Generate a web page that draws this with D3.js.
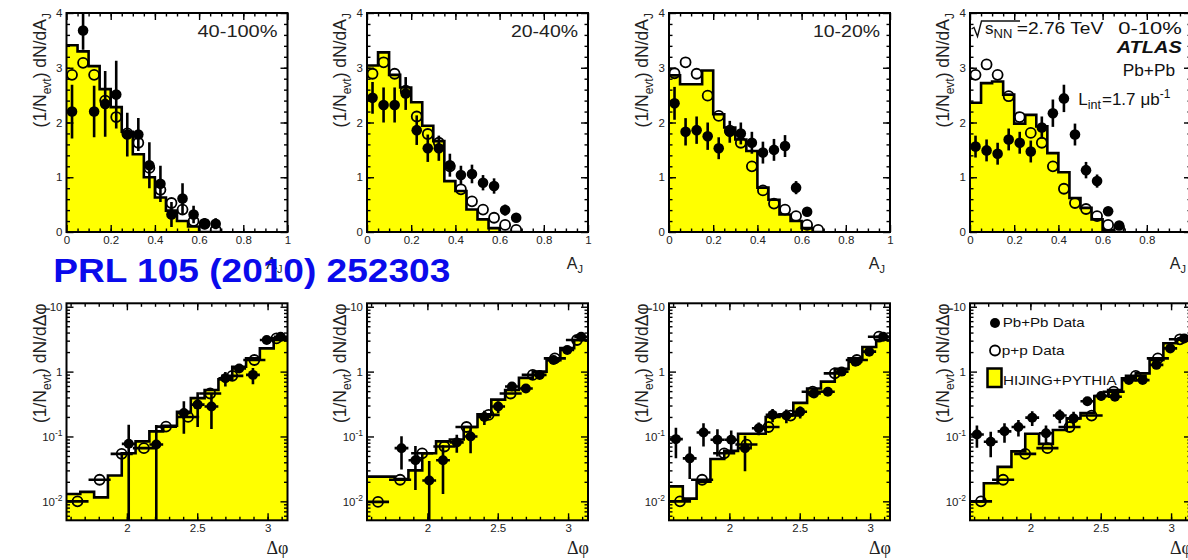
<!DOCTYPE html>
<html lang="en">
<head>
<meta charset="UTF-8">
<title>ATLAS dijet asymmetry</title>
<script src="https://cdn.jsdelivr.net/npm/d3@7"></script>
<style>
    body { margin: 0; background: #fff; }
    svg { display: block; font-family: "Liberation Sans", Arial, sans-serif; }
    .tick text { font-size: 11.5px; fill: #222; font-family: "Liberation Sans", Arial, sans-serif; }
    .tick line { stroke: #000; stroke-width: 1.4; }
    .frame { fill: none; stroke: #000; stroke-width: 2; }
    .hist-fill { fill: #ffff00; }
    .hist-line { fill: none; stroke: #000; stroke-width: 2.6; }
    .err { stroke: #000; stroke-width: 2.6; }
    .pbpb { fill: #000; }
    .pp { fill: none; stroke: #000; stroke-width: 1.8; }
</style>
</head>
<body>
<svg id="chart" width="1188" height="560"></svg>
<script>
    // ---------- top row : A_J ----------
    const centralities = ["40-100%", "20-40%", "10-20%", "0-10%"];
    const ajEdges = [0, 0.05, 0.1, 0.15, 0.2, 0.25, 0.3, 0.35, 0.4, 0.45, 0.5, 0.55, 0.6, 0.65, 0.7];
    const ajCentres = [0.025, 0.075, 0.125, 0.175, 0.225, 0.275, 0.325, 0.375, 0.425, 0.475, 0.525, 0.575, 0.625, 0.675];
    const ajTicks = [0, 0.2, 0.4, 0.6, 0.8, 1];
    const ajYTicks = [0, 1, 2, 3, 4];

    // HIJING+PYTHIA histograms
    const ajHist40 = [3.41, 3.30, 3.03, 2.61, 2.28, 1.83, 1.42, 1.00, 0.63, 0.39, 0.20, 0.10, 0, 0];
    const ajHist20 = [3.04, 3.28, 2.87, 2.64, 2.37, 1.94, 1.66, 0.93, 0.75, 0.41, 0.23, 0.07, 0, 0];
    const ajHist10 = [2.86, 2.70, 2.70, 2.95, 2.15, 1.91, 1.69, 1.48, 0.81, 0.59, 0.32, 0.20, 0.07, 0];
    const ajHist0  = [2.36, 2.72, 2.75, 2.51, 1.98, 2.14, 1.93, 1.44, 1.09, 0.62, 0.44, 0.23, 0.03, 0];

    // Pb+Pb data and errors
    const ajPbPb40 = [2.20, 3.68, 2.20, 2.34, 2.51, 1.78, 1.78, 1.22, 0.88, 0.32, 0.61, 0.32, 0.15, 0.15];
    const ajErr40  = [0.49, 0.35, 0.47, 0.60, 0.62, 0.40, 0.30, 0.42, 0.33, 0.23, 0.28, 0.16, 0.10, 0.10];
    const ajPbPb20 = [2.45, 2.32, 2.32, 2.53, 1.86, 1.53, 1.53, 1.22, 1.04, 1.06, 0.90, 0.84, 0.40, 0.26];
    const ajErr20  = [0.29, 0.32, 0.32, 0.30, 0.27, 0.25, 0.23, 0.21, 0.17, 0.17, 0.14, 0.14, 0.10, 0.08];
    const ajPbPb10 = [2.35, 1.83, 1.86, 1.75, 1.53, 1.83, 1.80, 1.63, 1.45, 1.50, 1.57, 0.81, 0.37];
    const ajErr10  = [0.30, 0.25, 0.25, 0.25, 0.20, 0.20, 0.20, 0.20, 0.20, 0.20, 0.20, 0.12, 0.08];
    const ajPbPb0  = [1.56, 1.49, 1.43, 1.69, 1.63, 1.47, 1.91, 2.17, 2.44, 1.78, 1.13, 0.93, 0.38, 0.12];
    const ajErr0   = [0.20, 0.20, 0.20, 0.20, 0.20, 0.20, 0.20, 0.25, 0.25, 0.20, 0.15, 0.12, 0.08, 0.05];

    // p+p data
    const ajPP40 = [2.87, 3.09, 2.87, 2.40, 2.10, 1.80, 1.63, 1.17, 0.77, 0.53, 0.41, 0.20, 0.15, 0.04];
    const ajPP20 = [2.89, 3.10, 2.89, 2.58, 2.11, 1.79, 1.63, 1.20, 0.78, 0.56, 0.41, 0.26, 0.13, 0.04];
    const ajPP10 = [2.90, 3.10, 2.89, 2.49, 2.12, 1.85, 1.63, 1.20, 0.76, 0.52, 0.41, 0.29, 0.13, 0.04];
    const ajPP0  = [2.87, 3.06, 2.87, 2.48, 2.10, 1.81, 1.63, 1.20, 0.79, 0.53, 0.42, 0.29, 0.13, 0.07];

    // ---------- bottom row : delta phi ----------
    const dphiEdges = [1.5708, 1.6690, 1.7671, 1.8653, 1.9635, 2.0617, 2.1598, 2.2580, 2.3562,
                       2.4544, 2.5525, 2.6507, 2.7489, 2.8471, 2.9452, 3.0434, 3.1416];
    const dphiTicks = [2, 2.5, 3];
    const dphiYTicks = [0.01, 0.1, 1, 10];

    const dphiHist40 = [0.013, 0.014, 0.0115, 0.025, 0.055, 0.084, 0.12, 0.146, 0.24, 0.39, 0.52, 0.76, 1.19, 1.6, 2.28, 3.07];
    const dphiHist20 = [0.024, 0.024, 0.022, 0.03, 0.055, 0.084, 0.09, 0.14, 0.22, 0.37, 0.52, 0.8, 1.0, 1.5, 2.3, 3.07];
    const dphiHist10 = [0.017, 0.011, 0.02, 0.045, 0.06, 0.11, 0.11, 0.2, 0.22, 0.33, 0.55, 0.7, 1.1, 1.6, 2.4, 3.1];
    const dphiHist0  = [0.01, 0.019, 0.034, 0.059, 0.11, 0.077, 0.126, 0.19, 0.23, 0.42, 0.52, 0.79, 0.94, 1.51, 2.73, 3.1];

    const dphiPbPbX40 = [2.013, 2.209, 2.405, 2.503, 2.601, 2.700, 2.798, 2.896, 2.994, 3.093];
    const dphiPbPb40  = [0.077, 0.075, 0.23, 0.31, 0.29, 0.79, 1.12, 0.89, 3.07, 3.45];
    const dphiErr40   = [0.075, 0.075, 0.12, 0.17, 0.16, 0.2, 0.15, 0.25, 0.3, 0.3];
    const dphiPbPbX20 = [1.816, 1.915, 2.013, 2.111, 2.209, 2.307, 2.405, 2.503, 2.601, 2.700, 2.798, 2.896, 2.994, 3.093];
    const dphiPbPb20  = [0.066, 0.043, 0.021, 0.043, 0.081, 0.10, 0.2, 0.29, 0.59, 0.55, 0.89, 1.51, 2.15, 3.45];
    const dphiErr20   = [0.035, 0.028, 0.021, 0.03, 0.025, 0.045, 0.05, 0.06, 0.08, 0.08, 0.1, 0.15, 0.2, 0.3];
    const dphiPbPbX10 = [1.620, 1.718, 1.816, 1.915, 2.013, 2.111, 2.209, 2.307, 2.405, 2.503, 2.601, 2.700, 2.798, 2.896, 2.994, 3.093];
    const dphiPbPb10  = [0.091, 0.046, 0.115, 0.089, 0.089, 0.066, 0.134, 0.215, 0.21, 0.24, 0.46, 0.49, 1.0, 1.42, 2.03, 3.45];
    const dphiErr10   = [0.045, 0.024, 0.045, 0.04, 0.035, 0.037, 0.03, 0.05, 0.05, 0.05, 0.05, 0.05, 0.08, 0.1, 0.15, 0.2];
    const dphiPbPbX0  = [1.620, 1.718, 1.816, 1.915, 2.013, 2.111, 2.209, 2.307, 2.405, 2.503, 2.601, 2.700, 2.798, 2.896, 2.994, 3.093];
    const dphiPbPb0   = [0.107, 0.083, 0.12, 0.14, 0.195, 0.112, 0.21, 0.19, 0.35, 0.42, 0.41, 0.74, 0.74, 1.27, 2.28, 3.25];
    const dphiErr0    = [0.04, 0.035, 0.04, 0.04, 0.05, 0.035, 0.05, 0.05, 0.05, 0.06, 0.05, 0.07, 0.07, 0.1, 0.15, 0.2];

    const dphiPPX  = [1.649, 1.806, 1.963, 2.121, 2.278, 2.435, 2.592, 2.749, 2.906, 3.063];
    const dphiPP40 = [0.01, 0.0215, 0.054, 0.066, 0.142, 0.2, 0.46, 0.86, 1.51, 3.25];
    const dphiPP20 = [0.0098, 0.0215, 0.055, 0.07, 0.14, 0.215, 0.46, 0.89, 1.6, 3.07];
    const dphiPP10 = [0.01, 0.0215, 0.055, 0.075, 0.14, 0.21, 0.49, 0.94, 1.51, 3.45];
    const dphiPP0  = [0.01, 0.0215, 0.054, 0.066, 0.14, 0.21, 0.49, 0.86, 1.6, 3.15];

    const topPanels = [
        {label: centralities[0], hist: ajHist40, pbpb: ajPbPb40, err: ajErr40, pp: ajPP40},
        {label: centralities[1], hist: ajHist20, pbpb: ajPbPb20, err: ajErr20, pp: ajPP20},
        {label: centralities[2], hist: ajHist10, pbpb: ajPbPb10, err: ajErr10, pp: ajPP10},
        {label: centralities[3], hist: ajHist0, pbpb: ajPbPb0, err: ajErr0, pp: ajPP0}
    ];
    const botPanels = [
        {hist: dphiHist40, px: dphiPbPbX40, pbpb: dphiPbPb40, err: dphiErr40, pp: dphiPP40},
        {hist: dphiHist20, px: dphiPbPbX20, pbpb: dphiPbPb20, err: dphiErr20, pp: dphiPP20},
        {hist: dphiHist10, px: dphiPbPbX10, pbpb: dphiPbPb10, err: dphiErr10, pp: dphiPP10},
        {hist: dphiHist0, px: dphiPbPbX0, pbpb: dphiPbPb0, err: dphiErr0, pp: dphiPP0}
    ];

    // layout
    const colX = [66.5, 367, 669, 970];
    const W = 221;
    const topY = 13, topH = 219;
    const botY = 303.3, botH = 217;

    const svg = d3.select("#chart");
    svg.append("rect").attr("width", 1188).attr("height", 560).attr("fill", "#fff");
    const defs = svg.append("defs");

    function addAxes(g, x, y, w, h, o) {
        const specs = [
            [d3.axisBottom, `translate(0,${h})`, x, o.xMajor, 7, o.xFmt],
            [d3.axisBottom, `translate(0,${h})`, x, o.xMinor, 3.5, null],
            [d3.axisTop, "translate(0,0)", x, o.xMajor, 7, null],
            [d3.axisTop, "translate(0,0)", x, o.xMinor, 3.5, null],
            [d3.axisLeft, "translate(0,0)", y, o.yMajor, 7, o.yFmt],
            [d3.axisLeft, "translate(0,0)", y, o.yMinor, 3.5, null],
            [d3.axisRight, `translate(${w},0)`, y, o.yMajor, 7, null],
            [d3.axisRight, `translate(${w},0)`, y, o.yMinor, 3.5, null]
        ];
        specs.forEach(([fn, tr, sc, vals, len, fmt]) => {
            const a = fn(sc).tickValues(vals).tickSizeInner(-len).tickSizeOuter(0)
                .tickPadding(4).tickFormat(fmt || (() => ""));
            const ag = g.append("g").attr("transform", tr).call(a);
            ag.select(".domain").remove();
            if (!fmt) ag.selectAll("text").remove();
            if (fmt && o.logLabels && fn === d3.axisLeft) {
                ag.selectAll(".tick text").each(function (d) {
                    const t = d3.select(this);
                    if (d === 1 || d === 10) { t.text(String(d)); return; }
                    t.text("10");
                    t.append("tspan").attr("dy", "-5").attr("font-size", "8.5px")
                        .text(Math.round(Math.log10(d)));
                });
            }
        });
        g.append("rect").attr("class", "frame").attr("width", w).attr("height", h);
    }

    function stepPoints(edges, hist) {
        const pts = hist.map((v, k) => [edges[k], v]);
        pts.push([edges[hist.length], hist[hist.length - 1]]);
        return pts;
    }

    function yTitle(g, h, last) {
        const t = g.append("text")
            .attr("transform", "translate(-21,0) rotate(-90)")
            .attr("text-anchor", "end")
            .attr("font-size", "17.5px")
            .attr("fill", "#222");
        t.append("tspan").text("(1/N");
        t.append("tspan").attr("font-size", "12px").attr("dy", 5).text("evt");
        t.append("tspan").attr("dy", -5).text(") dN/d" + last);
        return t;
    }

    // ----- top row -----
    topPanels.forEach((p, i) => {
        const g = svg.append("g").attr("transform", `translate(${colX[i]},${topY})`);
        const x = d3.scaleLinear().domain([0, 1]).range([0, W]);
        const y = d3.scaleLinear().domain([0, 4]).range([topH, 0]);
        defs.append("clipPath").attr("id", "ct" + i).append("rect").attr("width", W).attr("height", topH);
        const plot = g.append("g").attr("clip-path", `url(#ct${i})`);
        const pts = stepPoints(ajEdges, p.hist);
        plot.append("path").attr("class", "hist-fill")
            .attr("d", d3.area().x(d => x(d[0])).y0(topH).y1(d => y(d[1])).curve(d3.curveStepAfter)(pts));
        plot.append("path").attr("class", "hist-line")
            .attr("d", d3.line().x(d => x(d[0])).y(d => y(d[1])).curve(d3.curveStepAfter)(pts));

        plot.selectAll(".err").data(p.pbpb).enter().append("line").attr("class", "err")
            .attr("x1", (d, k) => x(ajCentres[k])).attr("x2", (d, k) => x(ajCentres[k]))
            .attr("y1", (d, k) => y(Math.max(0, d - p.err[k]))).attr("y2", (d, k) => y(d + p.err[k]));
        plot.selectAll(".pbpb").data(p.pbpb).enter().append("circle").attr("class", "pbpb")
            .attr("cx", (d, k) => x(ajCentres[k])).attr("cy", d => y(d)).attr("r", 5.3);
        plot.selectAll(".pp").data(p.pp).enter().append("circle").attr("class", "pp")
            .attr("cx", (d, k) => x(ajCentres[k])).attr("cy", d => y(d)).attr("r", 5);

        addAxes(g, x, y, W, topH, {
            xMajor: ajTicks, xMinor: d3.range(0.05, 1, 0.05),
            yMajor: ajYTicks, yMinor: d3.range(0.2, 4, 0.2),
            xFmt: d => (d === 0 || d === 1) ? String(d) : d.toFixed(1),
            yFmt: d3.format("d")
        });

        if (i < 3) {
            g.append("text").attr("x", W - 10).attr("y", 24.3).attr("text-anchor", "end")
                .attr("font-size", "16px").attr("fill", "#222")
                .attr("textLength", i === 0 ? 80 : 67).attr("lengthAdjust", "spacingAndGlyphs")
                .text(p.label);
        }
        yTitle(g, topH, "A").append("tspan").attr("font-size", "12px").attr("dy", 5).text("J");

        const xl = g.append("text").attr("x", W - 5).attr("y", topH + 37).attr("text-anchor", "end")
            .attr("font-size", "16px").attr("fill", "#222");
        xl.append("tspan").text("A");
        xl.append("tspan").attr("font-size", "11px").attr("dy", 4).text("J");
    });

    // ----- bottom row -----
    botPanels.forEach((p, i) => {
        const g = svg.append("g").attr("transform", `translate(${colX[i]},${botY})`);
        const x = d3.scaleLinear().domain([Math.PI / 2, Math.PI]).range([0, W]);
        const y = d3.scaleLog().domain([0.0051, 11.3]).range([botH, 0]);
        const ylo = y.domain()[0];
        defs.append("clipPath").attr("id", "cb" + i).append("rect").attr("width", W).attr("height", botH);
        const plot = g.append("g").attr("clip-path", `url(#cb${i})`);
        const pts = stepPoints(dphiEdges, p.hist);
        plot.append("path").attr("class", "hist-fill")
            .attr("d", d3.area().x(d => x(d[0])).y0(botH).y1(d => y(d[1])).curve(d3.curveStepAfter)(pts));
        plot.append("path").attr("class", "hist-line")
            .attr("d", d3.line().x(d => x(d[0])).y(d => y(d[1])).curve(d3.curveStepAfter)(pts));

        // p+p : horizontal bars + open circles
        plot.selectAll(".pph").data(p.pp).enter().append("line").attr("class", "err")
            .attr("x1", (d, k) => x(dphiPPX[k] - Math.PI / 40)).attr("x2", (d, k) => x(dphiPPX[k] + Math.PI / 40))
            .attr("y1", d => y(d)).attr("y2", d => y(d));
        // Pb+Pb : error bars
        plot.selectAll(".ev").data(p.pbpb).enter().append("line").attr("class", "err")
            .attr("x1", (d, k) => x(p.px[k])).attr("x2", (d, k) => x(p.px[k]))
            .attr("y1", (d, k) => y(Math.max(ylo, d - p.err[k]))).attr("y2", (d, k) => y(d + p.err[k]));
        plot.selectAll(".eh").data(p.pbpb).enter().append("line").attr("class", "err")
            .attr("x1", (d, k) => x(p.px[k] - Math.PI / 64)).attr("x2", (d, k) => x(p.px[k] + Math.PI / 64))
            .attr("y1", d => y(d)).attr("y2", d => y(d));
        plot.selectAll(".pbpb").data(p.pbpb).enter().append("circle").attr("class", "pbpb")
            .attr("cx", (d, k) => x(p.px[k])).attr("cy", d => y(d)).attr("r", 5);
        plot.selectAll(".ppc").data(p.pp).enter().append("circle").attr("class", "pp")
            .attr("cx", (d, k) => x(dphiPPX[k])).attr("cy", d => y(d)).attr("r", 5);

        const yMinor = [];
        [0.001, 0.01, 0.1, 1].forEach(dec => d3.range(2, 10).forEach(m => {
            const v = dec * m;
            if (v > ylo && v < 11.3) yMinor.push(v);
        }));
        addAxes(g, x, y, W, botH, {
            xMajor: dphiTicks, xMinor: d3.range(1.6, 3.15, 0.1),
            yMajor: dphiYTicks, yMinor: yMinor,
            xFmt: d => String(d), yFmt: d => String(d), logLabels: true
        });

        yTitle(g, botH, "Δφ");
        g.append("text").attr("x", W + 1).attr("y", botH + 34).attr("text-anchor", "end")
            .attr("font-family", "'Liberation Serif', 'DejaVu Serif', serif")
            .attr("font-size", "18px").attr("fill", "#222").text("Δφ");
    });

    // ----- ATLAS annotations (0-10% panel) -----
    const ann = svg.append("g").attr("fill", "#111");
    ann.append("path").attr("d", "M971.5,29 L974,27.5 L977.5,36.5 L981.5,21 L1020,21")
        .attr("fill", "none").attr("stroke", "#111").attr("stroke-width", 1.4);
    const sq = ann.append("text").attr("x", 985).attr("y", 33.5).attr("font-size", "17px");
    sq.append("tspan").text("s");
    sq.append("tspan").attr("font-size", "13px").attr("dy", 4).text("NN");
    ann.append("text").attr("x", 1016.7).attr("y", 33.5).attr("font-size", "17px")
        .attr("textLength", 86.6).attr("lengthAdjust", "spacingAndGlyphs").text("=2.76 TeV");
    ann.append("text").attr("x", 1181.7).attr("y", 33.5).attr("font-size", "17px").attr("text-anchor", "end")
        .attr("textLength", 63.4).attr("lengthAdjust", "spacingAndGlyphs").text("0-10%");
    ann.append("text").attr("x", 1181.7).attr("y", 53.3).attr("font-size", "16px").attr("text-anchor", "end")
        .attr("font-weight", "bold").attr("font-style", "italic")
        .attr("textLength", 65).attr("lengthAdjust", "spacingAndGlyphs").text("ATLAS");
    ann.append("text").attr("x", 1175).attr("y", 76).attr("font-size", "17px").attr("text-anchor", "end")
        .attr("textLength", 52.3).attr("lengthAdjust", "spacingAndGlyphs").text("Pb+Pb");
    const lum = ann.append("text").attr("x", 1078.3).attr("y", 105).attr("font-size", "17px");
    lum.append("tspan").text("L");
    lum.append("tspan").attr("font-size", "12.5px").attr("dy", 4).text("int");
    lum.append("tspan").attr("dy", -4).attr("dx", 1).text("=1.7");
    lum.append("tspan").attr("dx", 5).text("μb");
    lum.append("tspan").attr("font-size", "12px").attr("dy", -7).text("-1");

    // ----- legend -----
    const leg = svg.append("g").attr("fill", "#111");
    leg.append("circle").attr("cx", 995).attr("cy", 323).attr("r", 5).attr("fill", "#000");
    leg.append("text").attr("x", 1002.7).attr("y", 327.3).attr("font-size", "13.5px")
        .attr("textLength", 82).attr("lengthAdjust", "spacingAndGlyphs").text("Pb+Pb Data");
    leg.append("circle").attr("cx", 995).attr("cy", 350.5).attr("r", 5).attr("class", "pp");
    leg.append("text").attr("x", 1001.7).attr("y", 355).attr("font-size", "13.5px")
        .attr("textLength", 63).attr("lengthAdjust", "spacingAndGlyphs").text("p+p Data");
    leg.append("rect").attr("x", 987.5).attr("y", 368.5).attr("width", 14).attr("height", 18.5)
        .attr("fill", "#ffff00").attr("stroke", "#000").attr("stroke-width", 2.5);
    leg.append("text").attr("x", 1003).attr("y", 385).attr("font-size", "13.5px")
        .attr("textLength", 113.7).attr("lengthAdjust", "spacingAndGlyphs").text("HIJING+PYTHIA");

    // ----- reference label -----
    svg.append("text").attr("x", 53.3).attr("y", 281.7)
        .attr("font-size", "34px").attr("font-weight", "bold").attr("fill", "#0a0aeb")
        .attr("textLength", 397).attr("lengthAdjust", "spacingAndGlyphs")
        .text("PRL 105 (2010) 252303");
</script>
</body>
</html>
